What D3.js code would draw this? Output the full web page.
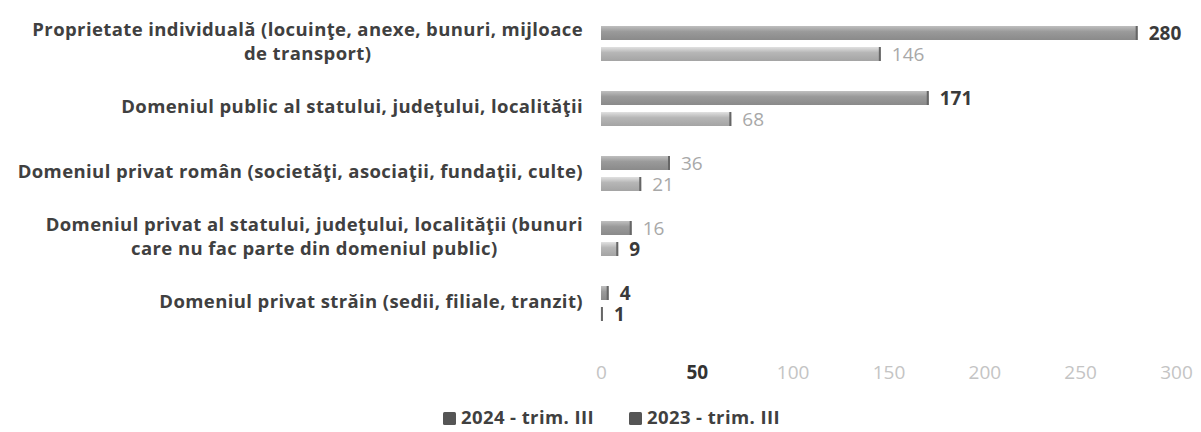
<!DOCTYPE html>
<html>
<head>
<meta charset="utf-8">
<script src="https://d3js.org/d3.v7.min.js"></script>
<style>
    body { margin: 0; background: #fff; }
    svg { display: block; }
</style>
</head>
<body>
<svg></svg>
<script>
var width = 1201, height = 432;

var categories = [
    ["Proprietate individuală (locuinţe, anexe, bunuri, mijloace", "de transport)"],
    ["Domeniul public al statului, judeţului, localităţii"],
    ["Domeniul privat român (societăţi, asociaţii, fundaţii, culte)"],
    ["Domeniul privat al statului, judeţului, localităţii (bunuri", "care nu fac parte din domeniul public)"],
    ["Domeniul privat străin (sedii, filiale, tranzit)"]
];
var series = ["2024 - trim. III", "2023 - trim. III"];
var values2024 = [280, 171, 36, 16, 4];
var values2023 = [146, 68, 21, 9, 1];
var tickValues = [0, 50, 100, 150, 200, 250, 300];

// the scan made some numbers bold and dark, the rest pale
var boldLabels2024 = [true, true, false, false, true];
var boldLabels2023 = [false, false, false, true, true];

var font = "'Open Sans', sans-serif";

var svg = d3.select("svg")
    .attr("width", width)
    .attr("height", height);

var defs = svg.append("defs");
function addGradient(id, mid) {
    var g = defs.append("linearGradient")
        .attr("id", id)
        .attr("x1", 0).attr("y1", 0).attr("x2", 0).attr("y2", 1);
    g.append("stop").attr("offset", "0%").attr("stop-color", d3.color(mid).brighter(0.6));
    g.append("stop").attr("offset", "40%").attr("stop-color", mid);
    g.append("stop").attr("offset", "100%").attr("stop-color", d3.color(mid).darker(0.3));
}
addGradient("g2024", "#9a9a9a");
addGradient("g2023", "#b6b6b6");

var x_scale = d3.scaleLinear().domain([0, 300]).range([601, 1176]);
var y_scale = d3.scaleBand().domain(d3.range(categories.length)).range([11, 336]);
var y_inner = d3.scaleBand().domain(series).range([-17.5, 17.5]).paddingInner(1 / 3);

var rows = categories.map(function(c, i) {
    return {
        label: c,
        bars: [
            { s: series[0], v: values2024[i], bold: boldLabels2024[i], fill: "url(#g2024)" },
            { s: series[1], v: values2023[i], bold: boldLabels2023[i], fill: "url(#g2023)" }
        ]
    };
});

var group = svg.selectAll(".cat")
    .data(rows)
    .enter().append("g")
    .attr("class", "cat")
    .attr("transform", function(d, i) {
        return "translate(0," + (y_scale(i) + y_scale.bandwidth() / 2) + ")";
    });

group.selectAll("rect.bar")
    .data(function(d) { return d.bars; })
    .enter().append("rect")
    .attr("class", "bar")
    .attr("x", x_scale(0))
    .attr("y", function(d) { return y_inner(d.s); })
    .attr("width", function(d) { return Math.max(1.5, x_scale(d.v) - x_scale(0)); })
    .attr("height", y_inner.bandwidth())
    .attr("fill", function(d) { return d.fill; });

// darker end cap on each bar
group.selectAll("rect.cap")
    .data(function(d) { return d.bars; })
    .enter().append("rect")
    .attr("class", "cap")
    .attr("x", function(d) { return x_scale(d.v) - 2; })
    .attr("y", function(d) { return y_inner(d.s); })
    .attr("width", 2)
    .attr("height", y_inner.bandwidth())
    .attr("fill", "#666");

group.selectAll("text.val")
    .data(function(d) { return d.bars; })
    .enter().append("text")
    .attr("class", "val")
    .attr("x", function(d) { return x_scale(d.v) + 11; })
    .attr("y", function(d) { return y_inner(d.s) + y_inner.bandwidth() / 2; })
    .attr("dy", "0.35em")
    .attr("font-family", font)
    .attr("font-size", 19)
    .attr("font-weight", function(d) { return d.bold ? 700 : 400; })
    .attr("fill", function(d) { return d.bold ? "#3a3a3a" : "#a8a8a8"; })
    .text(function(d) { return d.v; });

// category labels, right edge at 583, wrapped lines centred on the block
var labelRight = 583;
group.each(function(d) {
    var g = d3.select(this);
    var lines = d.label;
    var texts = lines.map(function(line, k) {
        return g.append("text")
            .attr("font-family", font)
            .attr("font-size", 18.5)
            .attr("font-weight", 700)
            .attr("letter-spacing", 0.4)
            .attr("fill", "#404040")
            .attr("y", (k - (lines.length - 1) / 2) * 24.5 - 2)
            .attr("dy", "0.35em")
            .text(line);
    });
    var maxW = d3.max(texts, function(t) { return t.node().getComputedTextLength(); });
    texts.forEach(function(t) {
        t.attr("text-anchor", "middle").attr("x", labelRight - maxW / 2);
    });
});

// axis tick labels, no line
var x_axis = d3.axisBottom(x_scale).tickValues(tickValues).tickSize(0).tickPadding(0);
var axisG = svg.append("g")
    .attr("transform", "translate(0,365)")
    .call(x_axis);
axisG.select(".domain").remove();
axisG.selectAll("text")
    .attr("font-family", font)
    .attr("font-size", 19)
    .attr("font-weight", function(d) { return d === 50 ? 700 : 400; })
    .attr("fill", function(d) { return d === 50 ? "#333" : "#c4c4c4"; });

// legend
var legendX = [443, 629];
var legend = svg.selectAll(".legend")
    .data(series)
    .enter().append("g")
    .attr("class", "legend")
    .attr("transform", function(d, i) { return "translate(" + legendX[i] + ",418)"; });
legend.append("rect")
    .attr("x", 0).attr("y", -6)
    .attr("width", 13).attr("height", 13)
    .attr("rx", 1.5)
    .attr("fill", "#555");
legend.append("text")
    .attr("x", 18)
    .attr("dy", "0.35em")
    .attr("font-family", font)
    .attr("font-size", 18.5)
    .attr("font-weight", 700)
    .attr("letter-spacing", 0.4)
    .attr("fill", "#404040")
    .text(function(d) { return d; });
</script>
</body>
</html>
